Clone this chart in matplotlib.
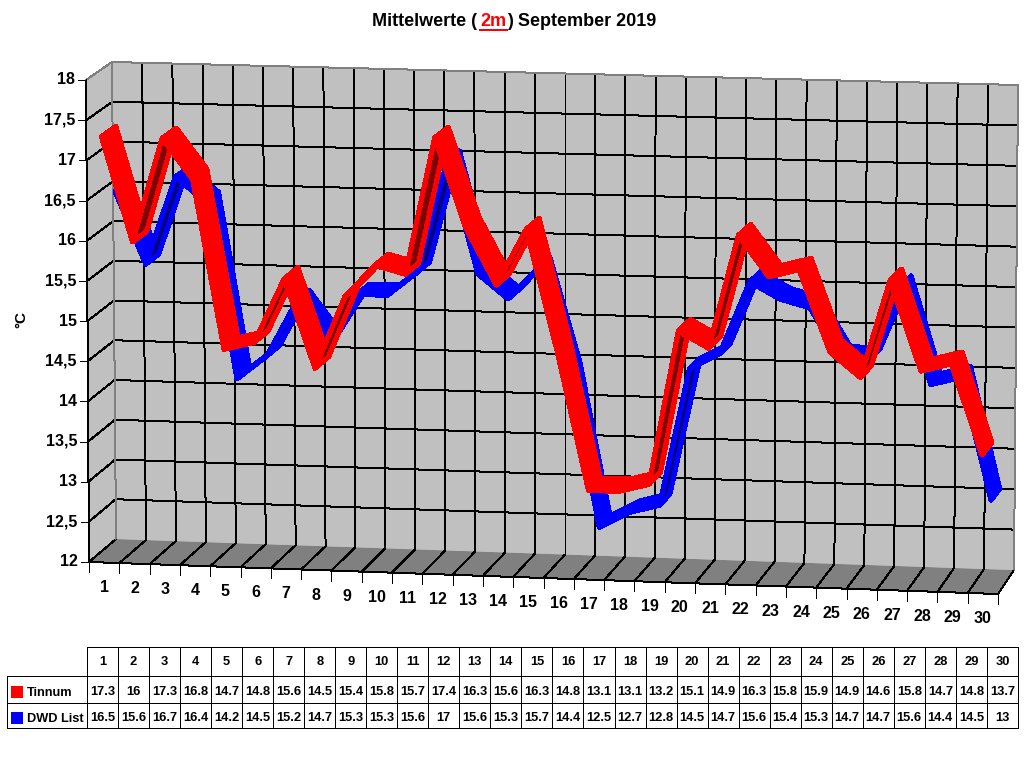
import numpy as np
import matplotlib
matplotlib.use("Agg")
import matplotlib.pyplot as plt
from matplotlib.patches import Polygon, Rectangle

plt.rcParams["font.family"] = ["Liberation Sans", "DejaVu Sans"]

DAYS = list(range(1, 31))
TINNUM = [17.3, 16, 17.3, 16.8, 14.7, 14.8, 15.6, 14.5, 15.4, 15.8,
          15.7, 17.4, 16.3, 15.6, 16.3, 14.8, 13.1, 13.1, 13.2, 15.1,
          14.9, 16.3, 15.8, 15.9, 14.9, 14.6, 15.8, 14.7, 14.8, 13.7]
DWD_LIST = [16.5, 15.6, 16.7, 16.4, 14.2, 14.5, 15.2, 14.7, 15.3, 15.3,
            15.6, 17, 15.6, 15.3, 15.7, 14.4, 12.5, 12.7, 12.8, 14.5,
            14.7, 15.6, 15.4, 15.3, 14.7, 14.7, 15.6, 14.4, 14.5, 13]
Y_TICKS = [12, 12.5, 13, 13.5, 14, 14.5, 15, 15.5, 16, 16.5, 17, 17.5, 18]

Y_MIN, Y_MAX = 12, 18
GRID = "#000000"
EDGE = "#808080"
PX = 0.72  # one pixel in points at dpi 100

# pixel corners of the 3d box: [left/right][bottom/top][front/back]
CORNERS = np.array([
    [[[89, 562], [116, 539]], [[86, 80], [112, 62]]],
    [[[998, 594], [1014, 570]], [[995, 104], [1018, 85]]],
], dtype=float)


def proj(day_pos, value, depth):
    # day_pos runs 0..30, depth 0 (front) .. 1 (back wall)
    u = day_pos / 30
    v = (value - Y_MIN) / (Y_MAX - Y_MIN)
    w = depth
    p = np.zeros(2)
    for i, a in ((0, 1 - u), (1, u)):
        for j, b in ((0, 1 - v), (1, v)):
            for k, c in ((0, 1 - w), (1, w)):
                p += a * b * c * CORNERS[i, j, k]
    return p


def line3d(ax, a, b, color=GRID, lw=PX):
    ax.plot([a[0], b[0]], [a[1], b[1]], color=color, lw=lw,
            antialiased=False, solid_capstyle="butt", zorder=2)


def draw_ribbon(ax, values, d0, d1, bright, dark):
    for i in range(len(values) - 1):
        x0, x1 = i + 0.5, i + 1.5
        p0, p1 = proj(x0, values[i], d0), proj(x1, values[i + 1], d0)
        q0, q1 = proj(x0, values[i], d1), proj(x1, values[i + 1], d1)
        along = p1 - p0
        across = q0 - p0
        # underside is visible when the segment is steeper than the depth vector
        under = along[0] * across[1] - along[1] * across[0] > 0
        # bright outline all round, the dark underside stays inset
        ax.add_patch(Polygon([p0, p1, q1, q0], closed=True,
                             facecolor=dark if under else bright,
                             edgecolor=bright, lw=4 * PX, joinstyle="round",
                             zorder=3, antialiased=False))


def main():
    fig = plt.figure(figsize=(10.24, 7.68), dpi=100, facecolor="white")
    ax = fig.add_axes([0, 0, 1, 1])
    ax.set_xlim(0, 1024)
    ax.set_ylim(768, 0)
    ax.axis("off")

    # walls and floor
    ax.add_patch(Polygon([proj(0, 12, 0), proj(0, 18, 0), proj(0, 18, 1), proj(0, 12, 1)],
                         facecolor="#C0C0C0", edgecolor="none", zorder=1))
    ax.add_patch(Polygon([proj(0, 12, 1), proj(0, 18, 1), proj(30, 18, 1), proj(30, 12, 1)],
                         facecolor="#C0C0C0", edgecolor="none", zorder=1))
    ax.add_patch(Polygon([proj(0, 12, 0), proj(0, 12, 1), proj(30, 12, 1), proj(30, 12, 0)],
                         facecolor="#808080", edgecolor="none", zorder=1))

    # horizontal grid + left wall lines + y ticks
    for val in Y_TICKS:
        if val > Y_MIN and val < Y_MAX:
            line3d(ax, proj(0, val, 1), proj(30, val, 1))
        line3d(ax, proj(0, val, 0), proj(0, val, 1), color=EDGE if val == Y_MAX else GRID)
        front = proj(0, val, 0)
        line3d(ax, front, front + np.array([-8, 0]))
        label = f"{val:g}".replace(".", ",")
        ax.text(front[0] - 11, front[1], label, ha="right", va="center",
                fontsize=11.5, fontweight="bold", color="black")

    # vertical grid, floor lines, x ticks and labels
    for i in range(31):
        if 0 < i < 30:
            line3d(ax, proj(i, 12, 1), proj(i, 18, 1))
        line3d(ax, proj(i, 12, 0), proj(i, 12, 1))
        front = proj(i, 12, 0)
        line3d(ax, front, front + np.array([0, 10]))
    for i, day in enumerate(DAYS):
        front = proj(i + 0.5, 12, 0)
        ax.text(front[0], front[1] + 25, str(day), ha="center", va="center",
                fontsize=11.5, fontweight="bold", color="black")

    line3d(ax, proj(0, 12, 0), proj(0, 18, 0))
    line3d(ax, proj(0, 12, 0), proj(30, 12, 0))
    line3d(ax, proj(0, 12, 1), proj(0, 18, 1), color=EDGE)
    line3d(ax, proj(0, 18, 1), proj(30, 18, 1), color=EDGE)
    line3d(ax, proj(30, 12, 1), proj(30, 18, 1), color=EDGE)

    draw_ribbon(ax, DWD_LIST, 0.5, 1.0, "#0000FF", "#000080")
    draw_ribbon(ax, TINNUM, 0.0, 0.55, "#FF0000", "#800000")

    # title, 2m part is red and underlined
    title_style = dict(fontsize=13.0, fontweight="bold", va="center", ha="left")
    ax.text(372, 21, "Mittelwerte (", color="black", **title_style)
    ax.text(480, 21, "2m", color="#FF0000", **title_style)
    ax.text(507.5, 21, ") September 2019", color="black", **title_style)
    ax.plot([480, 507], [30, 30], color="#FF0000", lw=PX * 2, antialiased=False)

    ax.text(21, 320, "°C", rotation=90, ha="center", va="center",
            fontsize=11, fontweight="bold")

    # data table under the chart
    tab_x0, col_w = 87, 31.03
    rows_y = [647, 676, 703, 728]
    tab_x1 = tab_x0 + col_w * 30
    for y in rows_y:
        ax.plot([tab_x0 if y == rows_y[0] else 7, tab_x1], [y, y], color="black",
                lw=PX, antialiased=False)
    for i in range(31):
        x = tab_x0 + i * col_w
        ax.plot([x, x], [rows_y[0], rows_y[3]], color="black", lw=PX, antialiased=False)
    ax.plot([7, 7], [rows_y[1], rows_y[3]], color="black", lw=PX, antialiased=False)

    for i, day in enumerate(DAYS):
        cx = tab_x0 + (i + 0.5) * col_w
        ax.text(cx, 662, str(day), ha="center", va="center", fontsize=9.3, fontweight="bold")
        ax.text(cx, 692, f"{TINNUM[i]:g}", ha="center", va="center", fontsize=9.3, fontweight="bold")
        ax.text(cx, 718, f"{DWD_LIST[i]:g}", ha="center", va="center", fontsize=9.3, fontweight="bold")

    ax.add_patch(Rectangle((11, 686), 12, 12, facecolor="#FF0000", edgecolor="none"))
    ax.add_patch(Rectangle((11, 712), 12, 12, facecolor="#0000FF", edgecolor="none"))
    ax.text(27, 693, "Tinnum", ha="left", va="center", fontsize=9.2, fontweight="bold")
    ax.text(27, 719, "DWD List", ha="left", va="center", fontsize=9.2, fontweight="bold")

    fig.savefig("out.png", dpi=100)
    plt.close(fig)


if __name__ == "__main__":
    main()
